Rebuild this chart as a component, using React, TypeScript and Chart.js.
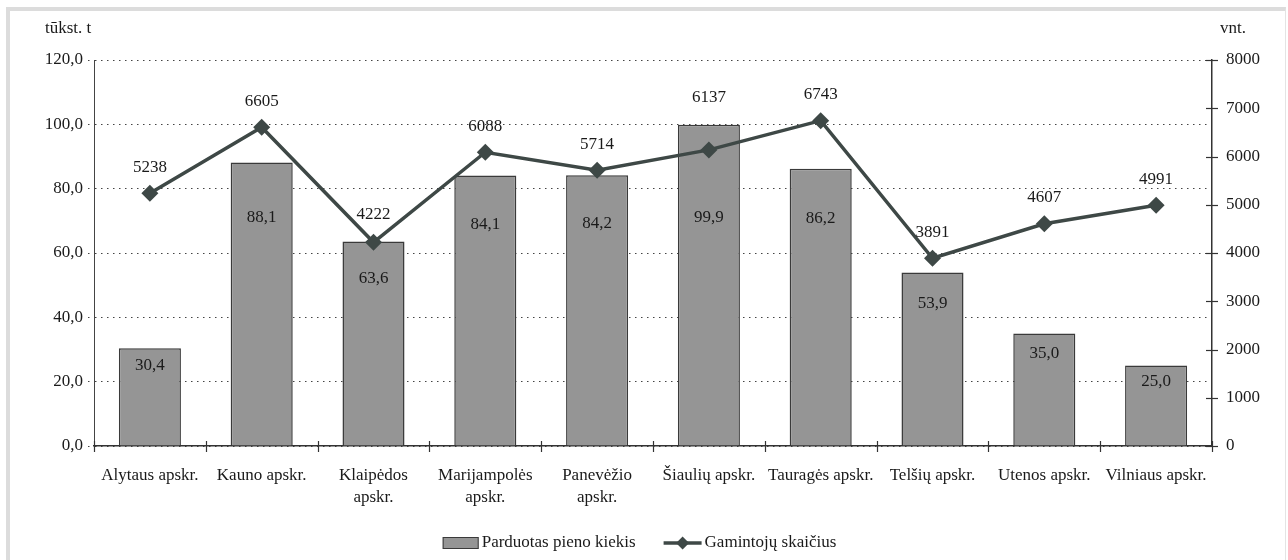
import React, { useEffect, useRef } from "react";
import { Chart, registerables } from "chart.js";

Chart.register(...registerables);

const categories: (string | string[])[] = [
  "Alytaus apskr.",
  "Kauno apskr.",
  ["Klaipėdos", "apskr."],
  ["Marijampolės", "apskr."],
  ["Panevėžio", "apskr."],
  "Šiaulių apskr.",
  "Tauragės apskr.",
  "Telšių apskr.",
  "Utenos apskr.",
  "Vilniaus apskr.",
];
const milkSold = [30.4, 88.1, 63.6, 84.1, 84.2, 99.9, 86.2, 53.9, 35.0, 25.0];
const producers = [5238, 6605, 4222, 6088, 5714, 6137, 6743, 3891, 4607, 4991];
const barLabel = "Parduotas pieno kiekis";
const lineLabel = "Gamintojų skaičius";
const leftUnit = "tūkst. t";
const rightUnit = "vnt.";

const FONT = "'Liberation Serif', 'Times New Roman', serif";
const FS = 17;
const TEXT = "#1a1a1a";
const LINE = "#3e4846";
const BAR = "#959595";
const BAR_BORDER = "#3a3a3a";

const fmt1 = (v: number) => v.toFixed(1).replace(".", ",");

const extrasPlugin = {
  id: "extras",
  afterDatasetsDraw(chart: any) {
    const ctx = chart.ctx;
    const area = chart.chartArea;
    const y = chart.scales.y;
    const y1 = chart.scales.y1;
    ctx.save();
    ctx.strokeStyle = "#333";
    ctx.lineWidth = 1.2;
    const n = categories.length;
    for (let i = 0; i <= n; i++) {
      const px = Math.round(area.left + (i * (area.right - area.left)) / n) + 0.5;
      ctx.beginPath();
      ctx.moveTo(px, area.bottom - 5);
      ctx.lineTo(px, area.bottom + 6);
      ctx.stroke();
    }
    y1.ticks.forEach((t: any) => {
      const py = Math.round(y1.getPixelForValue(t.value)) + 0.5;
      ctx.beginPath();
      ctx.moveTo(area.right - 6, py);
      ctx.lineTo(area.right + 6, py);
      ctx.stroke();
    });
    ctx.font = `${FS}px ${FONT}`;
    ctx.fillStyle = TEXT;
    ctx.textAlign = "center";
    ctx.textBaseline = "middle";
    const barMeta = chart.getDatasetMeta(0);
    barMeta.data.forEach((el: any, i: number) => {
      const v = milkSold[i];
      const at = Math.min(v * 0.82, v - 5, 71);
      ctx.fillText(fmt1(v), el.x, y.getPixelForValue(at));
    });
    const lineMeta = chart.getDatasetMeta(1);
    lineMeta.data.forEach((el: any, i: number) => {
      const barTop = barMeta.data[i].y;
      const ly = Math.min(el.y - 26, barTop - 27);
      ctx.fillText(String(producers[i]), el.x, ly);
    });
    ctx.textAlign = "left";
    ctx.fillText(leftUnit, 35, 18);
    ctx.fillText(rightUnit, area.right + 8, 18);

    const ly = chart.height - 21;
    const w1 = ctx.measureText(barLabel).width;
    const w2 = ctx.measureText(lineLabel).width;
    const total = 36 + 4 + w1 + 26 + 38 + 4 + w2;
    let lx = chart.width / 2 - total / 2 - 8;
    ctx.fillStyle = BAR;
    ctx.strokeStyle = BAR_BORDER;
    ctx.lineWidth = 1;
    ctx.fillRect(lx, ly - 6, 36, 12);
    ctx.strokeRect(lx + 0.5, ly - 5.5, 35, 11);
    lx += 39;
    ctx.fillStyle = TEXT;
    ctx.fillText(barLabel, lx, ly);
    lx += w1 + 28;
    ctx.strokeStyle = LINE;
    ctx.lineWidth = 3.5;
    ctx.beginPath();
    ctx.moveTo(lx, ly);
    ctx.lineTo(lx + 38, ly);
    ctx.stroke();
    ctx.fillStyle = LINE;
    ctx.beginPath();
    const cx = lx + 19;
    ctx.moveTo(cx, ly - 6.5);
    ctx.lineTo(cx + 6.5, ly);
    ctx.lineTo(cx, ly + 6.5);
    ctx.lineTo(cx - 6.5, ly);
    ctx.closePath();
    ctx.fill();
    lx += 41;
    ctx.fillStyle = TEXT;
    ctx.fillText(lineLabel, lx, ly);
    ctx.restore();
  },
};

export default function App() {
  const ref = useRef<HTMLCanvasElement>(null);
  useEffect(() => {
    if (!ref.current) return;
    const chart = new Chart(ref.current, {
      type: "bar",
      data: {
        labels: categories as any,
        datasets: [
          {
            type: "bar",
            label: barLabel,
            data: milkSold,
            backgroundColor: BAR,
            borderColor: BAR_BORDER,
            borderWidth: 1.5,
            barPercentage: 0.555,
            categoryPercentage: 1,
            yAxisID: "y",
            order: 2,
          },
          {
            type: "line",
            label: lineLabel,
            data: producers,
            borderColor: LINE,
            backgroundColor: LINE,
            borderWidth: 3.5,
            pointStyle: "rectRot",
            pointRadius: 8.5,
            pointBackgroundColor: LINE,
            pointBorderWidth: 0,
            yAxisID: "y1",
            order: 1,
          } as any,
        ],
      },
      options: {
        animation: false,
        responsive: false,
        maintainAspectRatio: false,
        layout: { padding: { top: 49, left: 0, right: 0, bottom: 0 } },
        plugins: {
          legend: { display: false },
          tooltip: { enabled: false },
        },
        scales: {
          x: {
            offset: true,
            grid: { display: false, drawTicks: false },
            border: { display: true, color: "#333", width: 1.5 },
            ticks: {
              font: { family: FONT, size: FS, lineHeight: 1.3 },
              color: TEXT,
              padding: 18,
              maxRotation: 0,
              autoSkip: false,
            },
            afterFit: (s: any) => {
              s.height = 118;
            },
          },
          y: {
            position: "left",
            min: 0,
            max: 120,
            ticks: {
              stepSize: 20,
              font: { family: FONT, size: FS },
              color: TEXT,
              padding: 5,
              callback: (v: any) => fmt1(Number(v)),
            },
            grid: {
              color: "#444",
              lineWidth: 1,
              tickLength: 6,
              tickColor: "#444",
            },
            border: { display: true, dash: [1.5, 4.5], color: "#444", width: 1 },
            afterFit: (s: any) => {
              s.width = 84;
            },
          },
          y1: {
            position: "right",
            min: 0,
            max: 8000,
            ticks: {
              stepSize: 1000,
              font: { family: FONT, size: FS },
              color: TEXT,
              padding: 14,
              callback: (v: any) => String(v),
            },
            grid: { drawOnChartArea: false, drawTicks: false },
            border: { display: true, color: "#333", width: 1.5 },
            afterFit: (s: any) => {
              s.width = 73;
            },
          },
        },
      } as any,
      plugins: [
        {
          id: "dashGrid",
          beforeDraw(chart: any) {
            const g = chart.scales.y.options.grid;
            g.borderDash = [1.5, 4.5];
            g.tickBorderDash = [1.5, 4.5];
          },
        },
        extrasPlugin,
      ],
    });
    return () => chart.destroy();
  }, []);
  return (
    <div
      style={{
        position: "fixed",
        left: 6,
        top: 7,
        width: 1275,
        height: 553,
        borderLeft: "4px solid #dcdcdc",
        borderTop: "4px solid #dcdcdc",
        borderRight: "1px solid #e4e4e4",
        background: "#fff",
      }}
    >
      <canvas ref={ref} width={1275} height={553} style={{ display: "block" }} />
    </div>
  );
}
